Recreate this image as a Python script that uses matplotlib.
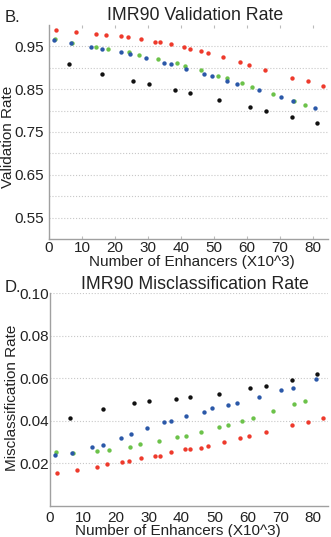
import matplotlib
matplotlib.use("Agg")
import matplotlib.pyplot as plt
import numpy as np

plt.rcParams['font.family'] = ['Liberation Sans', 'DejaVu Sans']

# series: enhancer counts (x10^3) and rates
red_x = [2.2, 8.3, 14.3, 17.3, 21.8, 24.0, 27.8, 32.0, 33.5, 36.8, 41.0,
         42.7, 45.9, 48.1, 52.8, 57.7, 60.5, 65.5, 73.5, 78.5, 83.0]
red_val = [0.988, 0.984, 0.980, 0.977, 0.974, 0.971, 0.967, 0.961, 0.960, 0.955, 0.948,
           0.944, 0.940, 0.935, 0.924, 0.913, 0.907, 0.895, 0.876, 0.868, 0.858]
red_mis = [0.0155, 0.0171, 0.0184, 0.0197, 0.0208, 0.0211, 0.0224, 0.0237, 0.0237, 0.0254, 0.0266,
           0.0269, 0.0272, 0.0280, 0.0301, 0.0320, 0.0331, 0.0347, 0.0379, 0.0395, 0.0413]

green_x = [1.7, 6.9, 14.3, 17.8, 24.2, 27.3, 33.0, 38.7, 41.3, 46.0, 51.3,
           54.0, 58.4, 61.6, 67.9, 74.1, 77.6]
green_val = [0.968, 0.958, 0.949, 0.943, 0.936, 0.929, 0.920, 0.910, 0.904, 0.894, 0.880,
             0.876, 0.864, 0.854, 0.838, 0.822, 0.812]
green_mis = [0.0253, 0.0251, 0.0256, 0.0264, 0.0278, 0.0290, 0.0304, 0.0325, 0.0331, 0.0347, 0.0371,
             0.0382, 0.0397, 0.0411, 0.0445, 0.0477, 0.0494]

blue_x = [1.6, 6.8, 12.8, 16.0, 21.7, 24.5, 29.4, 34.7, 36.9, 41.4, 46.8, 49.3,
          54.0, 56.8, 63.5, 70.2, 73.8, 80.7]
blue_val = [0.966, 0.958, 0.948, 0.944, 0.936, 0.933, 0.922, 0.912, 0.908, 0.896, 0.886, 0.880,
            0.870, 0.862, 0.847, 0.831, 0.822, 0.806]
blue_mis = [0.0240, 0.0251, 0.0277, 0.0286, 0.0320, 0.0338, 0.0368, 0.0395, 0.0400, 0.0421, 0.0442, 0.0458,
            0.0475, 0.0483, 0.0510, 0.0545, 0.0556, 0.0595]

black_x = [6.0, 16.2, 25.5, 30.2, 38.3, 42.7, 51.4, 60.8, 65.7, 73.7, 81.2]
black_val = [0.908, 0.886, 0.870, 0.862, 0.848, 0.842, 0.825, 0.808, 0.800, 0.785, 0.770]
black_mis = [0.0413, 0.0456, 0.0483, 0.0493, 0.0501, 0.0510, 0.0528, 0.0555, 0.0564, 0.0592, 0.0619]

x_ticks = [0, 10, 20, 30, 40, 50, 60, 70, 80]
val_ticks = [0.55, 0.65, 0.75, 0.85, 0.95]
val_minor = [0.60, 0.70, 0.80, 0.90]
mis_ticks = [0.02, 0.04, 0.06, 0.08, 0.10]

colors = {'green': '#6cc24a', 'blue': '#2b58a8', 'red': '#ee3a2c', 'black': '#111111'}
txt = '#222222'

fig = plt.figure(figsize=(3.31, 5.37), dpi=100)
ax1 = fig.add_axes([0.148, 0.555, 0.843, 0.3985])
ax2 = fig.add_axes([0.151, 0.0577, 0.840, 0.3966])


def style(ax, xpad, ypad):
    for s in ['top', 'right']:
        ax.spines[s].set_visible(False)
    for s in ['left', 'bottom']:
        ax.spines[s].set_color('#a0a0a0')
        ax.spines[s].set_linewidth(1.0)
    ax.tick_params(axis='both', which='both', length=0, labelsize=11, labelcolor=txt)
    ax.tick_params(axis='x', pad=xpad)
    ax.tick_params(axis='y', pad=ypad)
    ax.grid(True, axis='y', which='both', linestyle=':', color='#c8c8c8', linewidth=0.8)
    ax.set_axisbelow(True)
    ax.set_xlim(0, 84.5)
    ax.set_xticks(x_ticks)


def dots(ax, series):
    for xs, ys, c in series:
        ax.scatter(xs, ys, s=10, color=colors[c], zorder=3, linewidths=0)


# B. validation rate
dots(ax1, [(green_x, green_val, 'green'), (blue_x, blue_val, 'blue'),
           (red_x, red_val, 'red'), (black_x, black_val, 'black')])
style(ax1, 1.2, 3.4)
ax1.set_ylim(0.5, 1.0)
ax1.set_yticks(val_ticks)
ax1.set_yticks(val_minor, minor=True)
ax1.set_yticklabels(['0.55', '0.65', '0.75', '0.85', '0.95'])
ax1.tick_params(axis='x', top=True, which='major', length=2, color='#bbbbbb', direction='in')
ax1.set_xlabel('Number of Enhancers (X10^3)', fontsize=11, color=txt)
ax1.xaxis.set_label_coords(0.511, -0.074)
ax1.set_ylabel('Validation Rate', fontsize=11, color=txt, va='center')
ax1.yaxis.set_label_coords(-0.147, 0.476)
ax1.set_title('IMR90 Validation Rate', fontsize=12.8, pad=3.5, x=0.523, color=txt)

# D. misclassification rate
dots(ax2, [(green_x, green_mis, 'green'), (blue_x, blue_mis, 'blue'),
           (red_x, red_mis, 'red'), (black_x, black_mis, 'black')])
style(ax2, 3.5, 1)
ax2.set_ylim(0.0, 0.10)
ax2.set_yticks(mis_ticks)
ax2.set_yticklabels(['0.02', '0.04', '0.06', '0.08', '0.10'])
ax2.set_xlabel('Number of Enhancers (X10^3)', fontsize=11, color=txt)
ax2.xaxis.set_label_coords(0.459, -0.085)
ax2.set_ylabel('Misclassification Rate', fontsize=11, color=txt, va='center')
ax2.yaxis.set_label_coords(-0.135, 0.507)
ax2.set_title('IMR90 Misclassification Rate', fontsize=12.8, pad=1, x=0.522, color=txt)

fig.text(0.015, 1 - 22 / 537, 'B.', fontsize=12, va='baseline', color=txt)
fig.text(0.015, 1 - 292 / 537, 'D.', fontsize=12, va='baseline', color=txt)

fig.savefig('out.png', dpi=100)
